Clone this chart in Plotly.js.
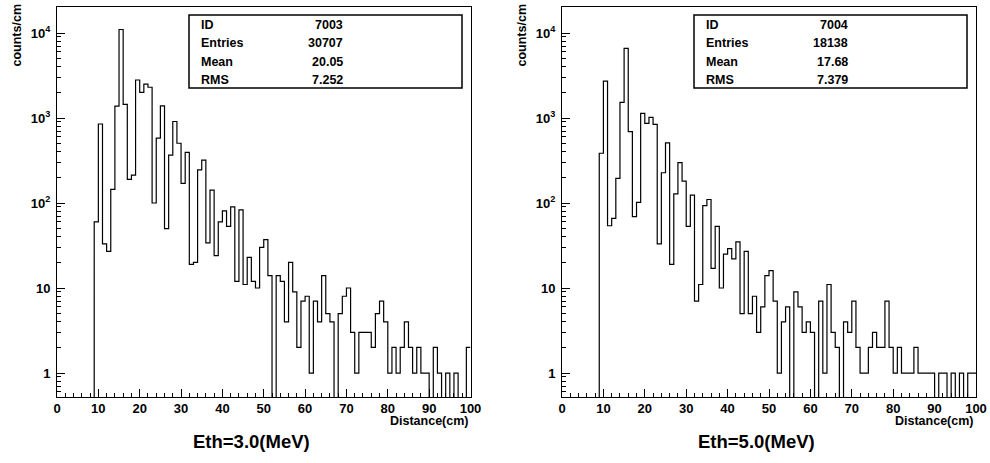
<!DOCTYPE html>
<html>
<head>
<meta charset="utf-8">
<script src="https://cdn.plot.ly/plotly-3.0.1.min.js"></script>
<style>
html,body{margin:0;padding:0;background:#fff;}
#chart{width:990px;height:463px;}
</style>
</head>
<body>
<div id="chart"></div>
<script>
// ---------------- data ----------------
// 1 cm bins, lower edges 0..99 (cm)
const binCount = 100;
const countsEth3 = [
  0,0,0,0,0,0,0,0,0,60,
  850,33,27,145,1380,11000,1450,190,213,2800,
  2000,2500,2300,100,580,1390,50,365,910,505,
  170,395,19,20,245,320,34,142,24,60,
  81,53,90,12,83,11,23,12,10,30,
  37,14,0,14,12,4,20,9,2,7,
  8,1,7,4,14,5,4,0,5,8,
  10,3,1,3,3,3,2,5,7,4,
  1,2,1,2,4,2,1,2,1,1,
  0,2,1,0,1,0,1,0,0,2
];
const countsEth5 = [
  0,0,0,0,0,0,0,0,0,385,
  2720,54,66,195,1530,6600,690,69,102,1135,
  865,1020,843,33,227,510,19,128,298,181,
  53,124,7,11,93,110,17,53,10,25,
  29,22,35,5,27,5,8,3,6,14,
  16,7,1,4,6,0,9,6,3,4,
  3,0,7,1,11,3,2,0,4,3,
  7,2,1,1,2,3,2,2,7,2,
  1,2,1,1,1,2,1,1,1,1,
  0,1,1,0,1,0,1,0,1,1
];
const statLabels = ["ID", "Entries", "Mean", "RMS"];
const statsEth3 = ["7003", "30707", "20.05", "7.252"];
const statsEth5 = ["7004", "18138", "17.68", "7.379"];
const panelTitles = ["Eth=3.0(MeV)", "Eth=5.0(MeV)"];
const xTitle = "Distance(cm)";
const yTitle = "counts/cm";
const yTickVals = [1, 10, 100, 1000, 10000];
const yTickText = ["1", "10", "10<sup>2</sup>", "10<sup>3</sup>", "10<sup>4</sup>"];

// ---------------- geometry ----------------
const W = 990, H = 463;
const ML = 57, MR = 14, MT = 7, MB = 66;
const PW = W - ML - MR, PH = H - MT - MB;
const px2x = p => (p - ML) / PW;
const py2y = p => (H - MB - p) / PH;

const FONT = '"Liberation Sans", Arial, Helvetica, sans-serif';
const FLOOR = 1e-3; // empty bins drawn down past the axis bottom

function histTrace(counts, xa, ya) {
  const x = [], y = [];
  for (let i = 0; i < counts.length; i++) {
    x.push(i);
    y.push(counts[i] > 0 ? counts[i] : FLOOR);
  }
  x.push(binCount);
  y.push(y[y.length - 1]);
  return {
    x: x, y: y, type: 'scatter', mode: 'lines',
    line: {shape: 'hv', color: '#000', width: 1.2},
    xaxis: xa, yaxis: ya, hoverinfo: 'skip', showlegend: false
  };
}

const minorY = [];
[0.1, 1, 10, 100, 1000].forEach(d => {
  for (let k = 2; k <= 9; k++) minorY.push(d * k);
});

function xAxis(domain, anchor) {
  return {
    domain: domain, anchor: anchor, range: [0, 100],
    tickmode: 'linear', tick0: 0, dtick: 10,
    ticks: 'inside', ticklen: 8, tickwidth: 1, tickcolor: '#000',
    minor: {ticks: 'inside', ticklen: 4, tickwidth: 1, tickcolor: '#000', tick0: 0, dtick: 2, showgrid: false},
    showline: true, linecolor: '#000', linewidth: 1, mirror: true,
    showgrid: false, zeroline: false, fixedrange: true,
    tickfont: {family: FONT, size: 13, color: '#000', weight: 'bold'},
    ticklabelstandoff: -1
  };
}
function yAxis(anchor) {
  return {
    anchor: anchor, type: 'log', range: [-0.282, 4.306],
    tickmode: 'array', tickvals: yTickVals, ticktext: yTickText,
    ticks: 'inside', ticklen: 8, tickwidth: 1, tickcolor: '#000',
    minor: {ticks: 'inside', ticklen: 4, tickwidth: 1, tickcolor: '#000', tickmode: 'array', tickvals: minorY, showgrid: false},
    showline: true, linecolor: '#000', linewidth: 1, mirror: true,
    showgrid: false, zeroline: false, fixedrange: true,
    tickfont: {family: FONT, size: 13, color: '#000', weight: 'bold'},
    ticklabelstandoff: 3
  };
}

const annotations = [];
const shapes = [];
const panels = [
  {offset: 0, stats: statsEth3, title: panelTitles[0]},
  {offset: 505, stats: statsEth5, title: panelTitles[1]}
];
const rowY = [25, 43.3, 61.7, 80];
panels.forEach(p => {
  const o = p.offset;
  // stats box
  shapes.push({type: 'rect', xref: 'paper', yref: 'paper',
    x0: px2x(189 + o), x1: px2x(462 + o), y0: py2y(88), y1: py2y(15),
    line: {color: '#000', width: 1.5}, fillcolor: 'rgba(255,255,255,1)'});
  statLabels.forEach((lab, i) => {
    annotations.push({xref: 'paper', yref: 'paper', x: px2x(199 + o), y: py2y(rowY[i]),
      xanchor: 'left', yanchor: 'middle', text: lab, showarrow: false,
      font: {family: FONT, size: 12.5, color: '#000', weight: 'bold'}});
    annotations.push({xref: 'paper', yref: 'paper', x: px2x(345 + o), y: py2y(rowY[i]),
      xanchor: 'right', yanchor: 'middle', text: p.stats[i], showarrow: false,
      font: {family: FONT, size: 12.5, color: '#000', weight: 'bold'}});
  });
  // y title
  annotations.push({xref: 'paper', yref: 'paper', x: px2x(16 + o), y: py2y(2),
    xanchor: 'center', yanchor: 'top', textangle: -90, text: yTitle, showarrow: false,
    font: {family: FONT, size: 12.5, color: '#000', weight: 'bold'}});
  // x title
  annotations.push({xref: 'paper', yref: 'paper', x: px2x(471 + o), y: py2y(421),
    xanchor: 'right', yanchor: 'middle', text: xTitle, showarrow: false,
    font: {family: FONT, size: 12.5, color: '#000', weight: 'bold'}});
  // panel caption
  annotations.push({xref: 'paper', yref: 'paper', x: px2x(251 + o), y: py2y(441),
    xanchor: 'center', yanchor: 'middle', text: p.title, showarrow: false,
    font: {family: FONT, size: 18.5, color: '#000', weight: 'bold'}});
});

const data = [
  histTrace(countsEth3, 'x', 'y'),
  histTrace(countsEth5, 'x2', 'y2')
];

const layout = {
  width: W, height: H,
  margin: {l: ML, r: MR, t: MT, b: MB, pad: 0},
  paper_bgcolor: '#fff', plot_bgcolor: '#fff',
  showlegend: false,
  xaxis: xAxis([0, px2x(470.5)], 'y'),
  yaxis: yAxis('x'),
  xaxis2: xAxis([px2x(562), 1], 'y2'),
  yaxis2: yAxis('x2'),
  annotations: annotations,
  shapes: shapes
};

Plotly.newPlot('chart', data, layout, {staticPlot: true, displayModeBar: false});
</script>
</body>
</html>
